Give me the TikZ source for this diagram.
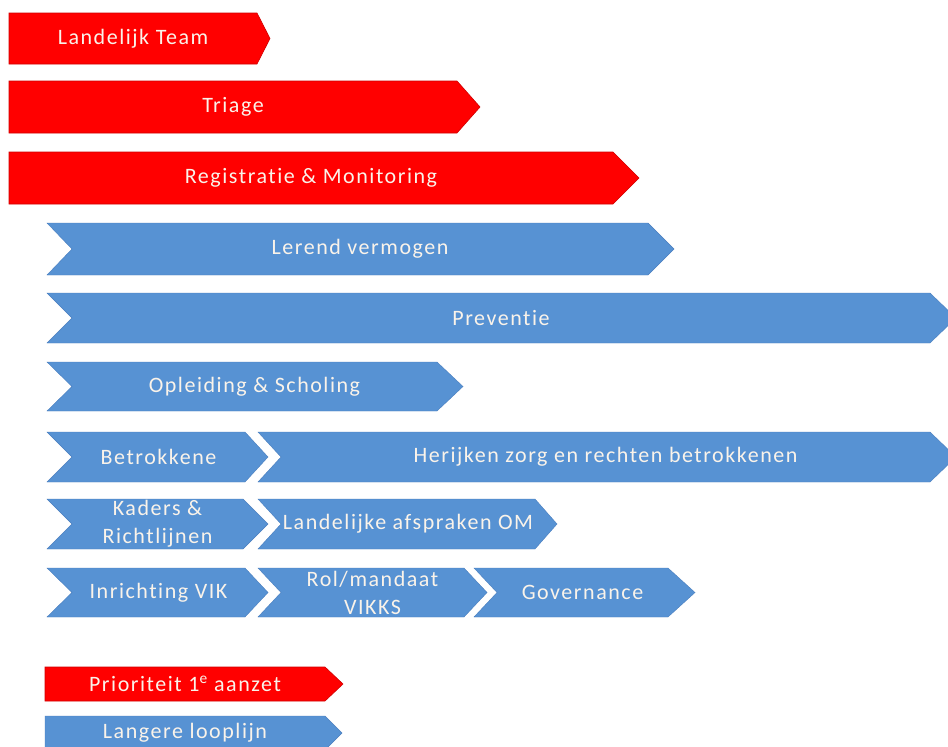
\documentclass[tikz,border=0pt]{standalone}
\usepackage{fontspec}
\setmainfont{Carlito}[LetterSpace=7, Ligatures={NoCommon}]
\definecolor{prred}{HTML}{FF0000}
\definecolor{prredline}{HTML}{D00000}
\definecolor{prblue}{HTML}{5792D3}
\definecolor{prblueline}{HTML}{4A7EBF}
\definecolor{prtext}{HTML}{FAF3EA}

% one bar: style, name, left, notch, body end, tip, top, bottom, text
\newcommand{\phasebar}[9]{%
  \filldraw[#1] (#3,#7) -- (#5,#7) -- (#6,{(#7+#8)/2}) -- (#5,#8)
    -- (#3,#8) -- (#4,{(#7+#8)/2}) -- cycle;
  \node[lbl] (#2) at ({(#4+#5)/2},{(#7+#8)/2}) {#9};
}

\begin{document}
\begin{tikzpicture}[
  x=1pt, y=-1pt,
  lbl/.style={text=prtext, align=center, inner sep=0pt,
              font=\fontsize{22}{28}\selectfont},
  redbar/.style={fill=prred, draw=prredline, line width=0.6pt},
  bluebar/.style={fill=prblue, draw=prblueline, line width=0.4pt}
]
\useasboundingbox[fill=white] (0,0) rectangle (948,747);

%% Priority tracks
\phasebar{redbar}{team}{9}{9}{257}{270}{13}{64}{Landelijk Team}
\phasebar{redbar}{triage}{9}{9}{457}{480}{81}{133}{Triage}
\phasebar{redbar}{regmon}{9}{9}{613}{639}{152}{204}{Registratie \& Monitoring}

%% Longer tracks
\phasebar{bluebar}{lerend}{47}{72}{648}{674}{223}{275}{Lerend vermogen}
\phasebar{bluebar}{preventie}{47}{72}{930}{956}{293}{343}{Preventie}
\phasebar{bluebar}{opleiding}{47}{72}{437}{463}{362}{411}{Opleiding \& Scholing}

\phasebar{bluebar}{betrok}{47}{72}{245}{268}{432}{482}{Betrokkene}
\phasebar{bluebar}{herijken}{258}{281}{930}{956}{432}{482}{Herijken zorg en rechten betrokkenen}

\phasebar{bluebar}{kaders}{47}{72}{243}{268}{499}{549}{Kaders \&\\Richtlijnen}
\phasebar{bluebar}{afspraken}{258}{281}{535}{557}{499}{549}{Landelijke afspraken OM}

\phasebar{bluebar}{inrichting}{47}{72}{245}{268}{568}{617}{Inrichting VIK}
\phasebar{bluebar}{rol}{258}{281}{464}{487}{568}{617}{Rol/mandaat\\VIKKS}
\phasebar{bluebar}{governance}{474}{497}{668}{695}{568}{617}{Governance}

%% Legend
\phasebar{redbar}{prio}{45}{45}{325}{343}{667}{701}{Prioriteit 1\textsuperscript{e} aanzet}
\phasebar{bluebar}{langer}{45}{45}{325}{342}{716}{750}{Langere looplijn}

\end{tikzpicture}
\end{document}
